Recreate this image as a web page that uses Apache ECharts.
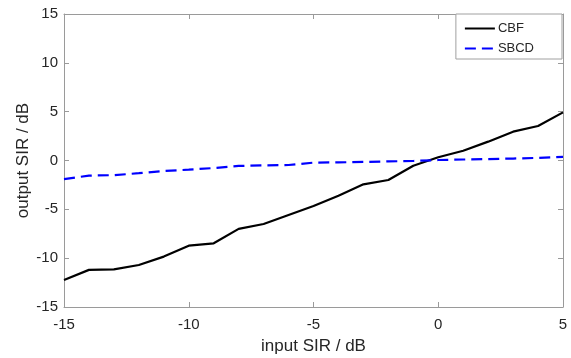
<!DOCTYPE html>
<html>
<head>
<meta charset="utf-8">
<script src="https://cdn.jsdelivr.net/npm/echarts@6/dist/echarts.min.js"></script>
<style>
html,body{margin:0;padding:0;background:#fff;}
#chart{width:571px;height:358px;}
</style>
</head>
<body>
<div id="chart"></div>
<script>
const inputSIR = [-15,-14,-13,-12,-11,-10,-9,-8,-7,-6,-5,-4,-3,-2,-1,0,1,2,3,4,5];
const cbf  = [-12.23,-11.2,-11.14,-10.7,-9.84,-8.72,-8.48,-7.0,-6.5,-5.58,-4.66,-3.6,-2.44,-2.0,-0.53,0.33,1.0,1.93,2.95,3.53,4.93];
const sbcd = [-1.9,-1.55,-1.5,-1.3,-1.08,-0.94,-0.77,-0.56,-0.5,-0.46,-0.22,-0.19,-0.15,-0.09,-0.05,0.05,0.1,0.15,0.2,0.27,0.38];
const xTicks = [-15,-10,-5,0,5];
const yTicks = [-15,-10,-5,0,5,10,15];

const axisGrey = '#9a9a9a';
const textCol = '#262626';
const font = 'Liberation Sans, Arial, sans-serif';

function pairs(ys){ return inputSIR.map((x,i)=>[x,ys[i]]); }

const frameAxis = (extra) => Object.assign({
  axisLine:{show:true,onZero:false,lineStyle:{color:axisGrey,width:1}},
  axisTick:{show:true,inside:true,length:5,lineStyle:{color:axisGrey}},
  splitLine:{show:false}
}, extra);

const chart = echarts.init(document.getElementById('chart'));
chart.setOption({
  animation:false,
  backgroundColor:'#fff',
  grid:{left:64,right:8,top:14,bottom:51,containLabel:false,outerBoundsMode:'none'},
  legend:{
    right:9, top:14,
    orient:'vertical',
    itemWidth:30, itemHeight:14, itemGap:7,
    padding:[8,28,4,8],
    backgroundColor:'#fff',
    borderColor:'#a0a0a0', borderWidth:1, borderRadius:0,
    itemStyle:{opacity:0},
    textStyle:{fontFamily:font,fontSize:13,color:textCol,padding:[0,0,0,-2]},
    data:['CBF','SBCD']
  },
  xAxis:[frameAxis({
    type:'value', min:xTicks[0], max:xTicks[xTicks.length-1], interval:5, position:'bottom',
    name:'input SIR / dB', nameLocation:'middle', nameGap:31, nameMoveOverlap:false,
    nameTextStyle:{fontFamily:font,fontSize:17,color:textCol},
    axisLabel:{fontFamily:font,fontSize:15,color:textCol,margin:10}
  }), frameAxis({
    type:'value', min:xTicks[0], max:xTicks[xTicks.length-1], interval:5, position:'top',
    axisLabel:{show:false}
  })],
  yAxis:[frameAxis({
    type:'value', min:yTicks[0], max:yTicks[yTicks.length-1], interval:5, position:'left',
    name:'output SIR / dB', nameLocation:'middle', nameGap:32, nameMoveOverlap:false,
    nameTextStyle:{fontFamily:font,fontSize:17,color:textCol},
    axisLabel:{fontFamily:font,fontSize:15,color:textCol,margin:6}
  }), frameAxis({
    type:'value', min:yTicks[0], max:yTicks[yTicks.length-1], interval:5, position:'right',
    axisLabel:{show:false}
  })],
  series:[{
    name:'CBF', type:'line', data:pairs(cbf),
    symbol:'none', color:'#000',
    lineStyle:{color:'#000',width:2.2,type:'solid'}
  },{
    name:'SBCD', type:'line', data:pairs(sbcd),
    symbol:'none', color:'#0000ff',
    lineStyle:{color:'#0000ff',width:2.2,type:[11,6]}
  }]
});
</script>
</body>
</html>
